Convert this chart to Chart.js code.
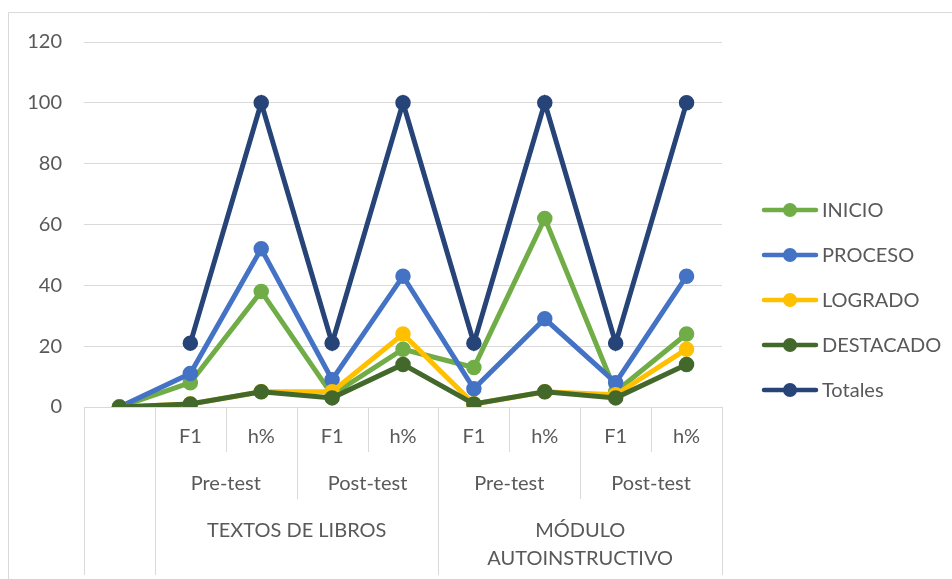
<!DOCTYPE html>
<html>
<head>
<meta charset="utf-8">
<script src="https://cdn.jsdelivr.net/npm/chart.js@4/dist/chart.umd.min.js"></script>
<style>
    html, body { margin: 0; padding: 0; background: #ffffff; }
    #wrap { width: 952px; height: 579px; position: relative; }
</style>
</head>
<body>
<div id="wrap"><canvas id="chart" width="952" height="579"></canvas></div>
<script>
// --- Data ---
const categories = ['', 'F1', 'h%', 'F1', 'h%', 'F1', 'h%', 'F1', 'h%'];
const phaseLabels = ['Pre-test', 'Post-test', 'Pre-test', 'Post-test']; // each spans 2 categories, from index 1
const groupLabels = [['TEXTOS DE LIBROS'], ['MÓDULO', 'AUTOINSTRUCTIVO']]; // each spans 4 categories

const seriesNames = ['INICIO', 'PROCESO', 'LOGRADO', 'DESTACADO', 'Totales'];
const inicio    = [0, 8, 38, 4, 19, 13, 62, 5, 24];
const proceso   = [0, 11, 52, 9, 43, 6, 29, 8, 43];
const logrado   = [0, 1, 5, 5, 24, 1, 5, 4, 19];
const destacado = [0, 1, 5, 3, 14, 1, 5, 3, 14];
const totales   = [null, 21, 100, 21, 100, 21, 100, 21, 100];

const yTicks = [0, 20, 40, 60, 80, 100, 120];

const seriesColors = ['#70ad47', '#4472c4', '#ffc000', '#43682b', '#264478'];
const textColor = '#595959';
const lineGray = '#d9d9d9';
const fontFamily = 'Lato, "Noto Sans", sans-serif';

const seriesValues = [inicio, proceso, logrado, destacado, totales];

// --- Custom drawing: border, multi-level x labels, legend ---
const decorPlugin = {
    id: 'decor',
    afterDraw(chart) {
        const ctx = chart.ctx;
        const area = chart.chartArea;
        const x = chart.scales.x;
        const W = chart.width;
        const H = chart.height;

        ctx.save();
        ctx.strokeStyle = lineGray;
        ctx.lineWidth = 1;

        // outer border (the picture is cropped on right and bottom)
        ctx.beginPath();
        ctx.moveTo(8.5, H);
        ctx.lineTo(8.5, 12.5);
        ctx.lineTo(W, 12.5);
        ctx.stroke();

        // category boundaries
        const px = i => x.getPixelForValue(i);
        const edge = i => {
            if (i < 0) return area.left;
            if (i >= categories.length - 1) return area.right;
            return (px(i) + px(i + 1)) / 2;
        };
        const vline = (xx, y2) => {
            const xr = Math.round(xx) + 0.5;
            ctx.beginPath();
            ctx.moveTo(xr, area.bottom);
            ctx.lineTo(xr, y2);
            ctx.stroke();
        };
        const fullBottom = 575;
        for (let i = -1; i < categories.length; i++) {
            let y2;
            if (i === -1 || i === 0 || i === 4 || i === categories.length - 1) y2 = fullBottom;
            else if (i === 2 || i === 6) y2 = 499;
            else y2 = 452;
            vline(edge(i), y2);
        }

        // labels
        ctx.fillStyle = textColor;
        ctx.font = '20px ' + fontFamily;
        ctx.textAlign = 'center';
        ctx.textBaseline = 'middle';

        categories.forEach((c, i) => {
            if (c) ctx.fillText(c, px(i), 437);
        });
        phaseLabels.forEach((p, j) => {
            const a = 1 + j * 2;
            const cx = (edge(a - 1) + edge(a + 1)) / 2;
            ctx.fillText(p, cx, 484);
        });
        groupLabels.forEach((lines, j) => {
            const a = 1 + j * 4;
            const cx = (edge(a - 1) + edge(a + 3)) / 2;
            lines.forEach((t, k) => ctx.fillText(t, cx, 531 + k * 28));
        });

        // legend
        ctx.textAlign = 'left';
        chart.data.datasets.forEach((ds, i) => {
            const cy = 210 + i * 45;
            ctx.strokeStyle = ds.borderColor;
            ctx.lineWidth = 4.5;
            ctx.lineCap = 'round';
            ctx.beginPath();
            ctx.moveTo(764, cy);
            ctx.lineTo(816, cy);
            ctx.stroke();
            ctx.fillStyle = ds.borderColor;
            ctx.beginPath();
            ctx.arc(790, cy, 7, 0, Math.PI * 2);
            ctx.fill();
            ctx.fillStyle = textColor;
            ctx.fillText(ds.label, 822, cy + 1);
        });
        ctx.restore();
    }
};

// --- Chart ---
const ctx = document.getElementById('chart').getContext('2d');
new Chart(ctx, {
    type: 'line',
    data: {
        labels: categories,
        datasets: seriesNames.map((name, i) => ({
            label: name,
            data: seriesValues[i],
            borderColor: seriesColors[i],
            backgroundColor: seriesColors[i],
            pointBackgroundColor: seriesColors[i],
            pointBorderColor: seriesColors[i],
            borderWidth: 5,
            pointRadius: 7,
            pointBorderWidth: 1.5,
            tension: 0,
            spanGaps: false,
            order: seriesNames.length - i // later series drawn on top, like the original
        }))
    },
    options: {
        responsive: false,
        animation: false,
        layout: { padding: { top: 42, right: 230, bottom: 0, left: 0 } },
        scales: {
            x: {
                offset: true,
                grid: { display: false },
                border: { display: false },
                ticks: { display: false },
                afterFit: scale => { scale.height = 172; }
            },
            y: {
                min: 0,
                max: 120,
                afterBuildTicks: scale => { scale.ticks = yTicks.map(v => ({ value: v })); },
                grid: { color: lineGray, lineWidth: 1, drawTicks: false },
                border: { display: false },
                ticks: {
                    color: textColor,
                    padding: 22,
                    font: { family: fontFamily, size: 20 }
                },
                afterFit: scale => { scale.width = 84; }
            }
        },
        plugins: {
            legend: { display: false },
            tooltip: { enabled: false }
        }
    },
    plugins: [decorPlugin]
});
</script>
</body>
</html>
